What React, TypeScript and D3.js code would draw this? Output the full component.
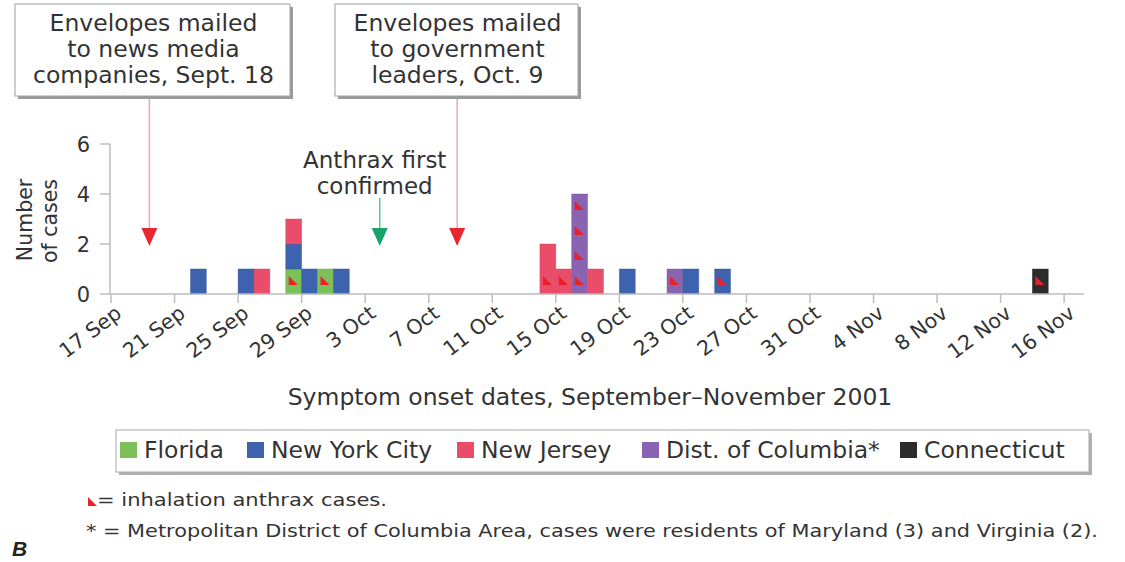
import React from "react";
import * as d3 from "d3";

const WIDTH = 1125;
const HEIGHT = 562;
const FONT = "DejaVu Sans, sans-serif";
const TEXT = "#333";

// states shown in the legend, in stacking order
const states = ["Florida", "New York City", "New Jersey", "Dist. of Columbia*", "Connecticut"];
const stateColors = ["#7cc05a", "#3d62ae", "#ea4d69", "#8a64b0", "#2c2c2c"];

// one row per (onset date, state)
const onsetDates = [
  "2001-09-22", "2001-09-25", "2001-09-26", "2001-09-28", "2001-09-28", "2001-09-28",
  "2001-09-29", "2001-09-30", "2001-10-01", "2001-10-14", "2001-10-15", "2001-10-16",
  "2001-10-17", "2001-10-19", "2001-10-22", "2001-10-23", "2001-10-25", "2001-11-14"
];
const onsetStates = [
  "New York City", "New York City", "New Jersey", "Florida", "New York City", "New Jersey",
  "New York City", "Florida", "New York City", "New Jersey", "New Jersey", "Dist. of Columbia*",
  "New Jersey", "New York City", "Dist. of Columbia*", "New York City", "New York City", "Connecticut"
];
const caseCounts = [1, 1, 1, 1, 1, 1, 1, 1, 1, 2, 1, 4, 1, 1, 1, 1, 1, 1];
const inhalationCounts = [0, 0, 0, 1, 0, 0, 0, 1, 0, 1, 1, 4, 0, 0, 1, 0, 1, 1];

const yTicks = [0, 2, 4, 6];

// annotation boxes at the top
const eventLabels = [
  ["Envelopes mailed", "to news media", "companies, Sept. 18"],
  ["Envelopes mailed", "to government", "leaders, Oct. 9"]
];
const eventArrowDates = [Date.UTC(2001, 8, 19, 10), Date.UTC(2001, 9, 8, 19)];
const confirmedLabel = ["Anthrax first", "confirmed"];
const confirmedDate = Date.UTC(2001, 9, 3, 22);

const Margin = { left: 111, right: 1084, top: 144, bottom: 294 };
const boxes = [
  { x: 15, w: 275 },
  { x: 335, w: 243 }
];
const legendX = [120, 247, 457, 642, 900];

const triangle = (x: number, yb: number) =>
  `M${x},${yb - 9}L${x},${yb}L${x + 9},${yb}Z`;

const App = () => {
  const xScale = d3
    .scaleUtc()
    .domain([Date.UTC(2001, 8, 17), Date.UTC(2001, 10, 17, 6)])
    .range([Margin.left, Margin.right]);
  const yScale = d3.scaleLinear().domain([0, 6]).range([Margin.bottom, Margin.top]);
  const color = d3.scaleOrdinal<string, string>().domain(states).range(stateColors);
  const format = d3.utcFormat("%-d %b");
  const ticks = d3.utcDay.range(Date.UTC(2001, 8, 17), Date.UTC(2001, 10, 17), 4);
  const parse = d3.utcParse("%Y-%m-%d");

  // stack the rows of each date
  const stackBase = new Map<string, number>();
  const bars = onsetDates.map((d, i) => {
    const base = stackBase.get(d) || 0;
    stackBase.set(d, base + caseCounts[i]);
    const day = parse(d) as Date;
    return {
      x0: xScale(day),
      x1: xScale(d3.utcDay.offset(day, 1)),
      base,
      count: caseCounts[i],
      inhal: inhalationCounts[i],
      state: onsetStates[i]
    };
  });

  const cx = xScale(confirmedDate);

  return (
    <svg width={WIDTH} height={HEIGHT} style={{ position: "absolute", left: 0, top: 0, fontFamily: FONT }}>
      <rect width={WIDTH} height={HEIGHT} fill="#fff" />

      {/* annotation boxes */}
      {eventLabels.map((lines, i) => {
        const b = boxes[i];
        const ax = xScale(eventArrowDates[i]);
        return (
          <g key={i}>
            <line x1={ax} x2={ax} y1={97} y2={229} stroke="#f4a3b6" strokeWidth={1.5} />
            <path d={`M${ax - 8},228L${ax + 8},228L${ax},246Z`} fill="#e8262f" />
            <rect x={b.x + 3} y={7} width={b.w} height={92} fill="#9a9a9a" />
            <rect x={b.x} y={4} width={b.w} height={92} fill="#fff" stroke="#a0a0a0" />
            {lines.map((t, j) => (
              <text key={j} x={b.x + b.w / 2 + 1} y={31 + j * 26} textAnchor="middle" fontSize={23.5} fill={TEXT}>
                {t}
              </text>
            ))}
          </g>
        );
      })}

      {/* anthrax first confirmed */}
      <g>
        {confirmedLabel.map((t, j) => (
          <text key={j} x={cx - 5} y={168 + j * 26} textAnchor="middle" fontSize={23} fill={TEXT}>
            {t}
          </text>
        ))}
        <line x1={cx} x2={cx} y1={198} y2={229} stroke="#5cc49b" strokeWidth={1.5} />
        <path d={`M${cx - 8},228L${cx + 8},228L${cx},246Z`} fill="#17a36d" />
      </g>

      {/* y axis */}
      <line x1={Margin.left - 1} x2={Margin.left - 1} y1={yScale(6)} y2={yScale(0)} stroke="#bdbdbd" strokeWidth={1.5} />
      {yTicks.map((t) => (
        <g key={t} transform={`translate(0, ${yScale(t)})`}>
          <line x1={Margin.left - 11} x2={Margin.left - 1} stroke="#bdbdbd" strokeWidth={1.5} />
          <text x={Margin.left - 21} y={0} dy="0.36em" textAnchor="end" fontSize={21} fill={TEXT}>
            {t}
          </text>
        </g>
      ))}
      <g transform="rotate(-90)" fill={TEXT} fontSize={20.5}>
        <text x={-220} y={32} textAnchor="middle">Number</text>
        <text x={-221} y={57} textAnchor="middle">of cases</text>
      </g>

      {/* bars */}
      {bars.map((b, i) => (
        <g key={i}>
          <rect
            x={b.x0}
            y={yScale(b.base + b.count)}
            width={b.x1 - b.x0}
            height={yScale(b.base) - yScale(b.base + b.count)}
            fill={color(b.state)}
            stroke={d3.color(color(b.state))!.darker(0.4).formatHex()}
            strokeOpacity={0.5}
            strokeWidth={0.8}
          />
          {d3.range(b.inhal).map((k) => (
            <path key={k} d={triangle(b.x0 + 3, yScale(b.base + k) - 9)} fill="#e8222a" />
          ))}
        </g>
      ))}

      {/* x axis */}
      <line x1={Margin.left} x2={Margin.right} y1={Margin.bottom} y2={Margin.bottom} stroke="#bdbdbd" strokeWidth={1.5} />
      {ticks.map((t) => (
        <g key={+t} transform={`translate(${xScale(t)}, ${Margin.bottom})`}>
          <line y1={0} y2={9} stroke="#bdbdbd" strokeWidth={1.5} />
          <text transform="translate(12, 22) rotate(-37)" textAnchor="end" fontSize={20.5} fill={TEXT}>
            {format(t)}
          </text>
        </g>
      ))}
      <text x={590} y={405} textAnchor="middle" fontSize={23.5} fill={TEXT}>
        Symptom onset dates, September–November 2001
      </text>

      {/* legend */}
      <rect x={119} y={433} width={973} height={42} fill="#b0b0b0" />
      <rect x={116} y={430} width={973} height={42} fill="#fff" stroke="#a8a8a8" />
      {states.map((s, i) => (
        <g key={s} transform={`translate(${legendX[i]}, 450)`}>
          <rect x={0} y={-8} width={17} height={16} fill={stateColors[i]} />
          <text x={24} y={0} dy="0.36em" fontSize={23.5} fill={TEXT}>
            {s}
          </text>
        </g>
      ))}

      {/* footnotes */}
      <path d={triangle(88, 506)} fill="#e8222a" />
      <text x={97} y={506} fontSize={17} fill={TEXT} textLength={290} lengthAdjust="spacingAndGlyphs">
        = inhalation anthrax cases.
      </text>
      <text x={86} y={537} fontSize={17} fill={TEXT} textLength={1012} lengthAdjust="spacingAndGlyphs">
        * = Metropolitan District of Columbia Area, cases were residents of Maryland (3) and Virginia (2).
      </text>
      <text x={12} y={556} fontSize={21} fontWeight="bold" fontStyle="italic" fill="#222" fontFamily="Liberation Sans, Arial, sans-serif">
        B
      </text>
    </svg>
  );
};

export default App;
